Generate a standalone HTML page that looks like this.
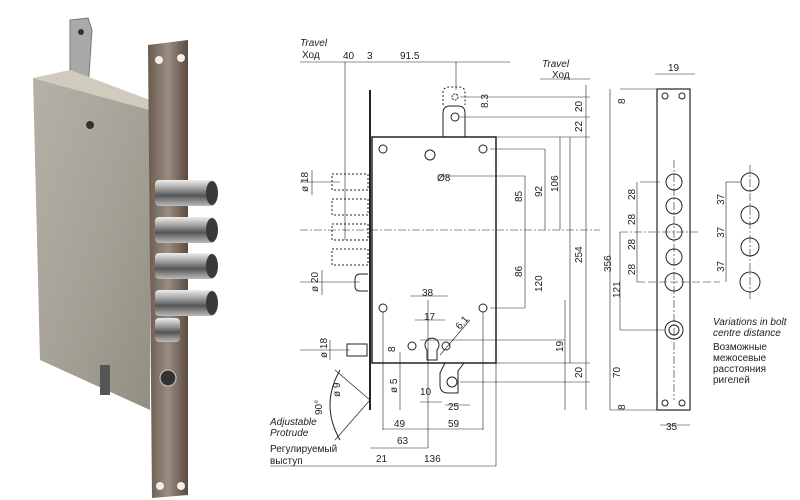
<!DOCTYPE html>
<html><head><meta charset="utf-8"><style>
html,body{margin:0;padding:0;background:#fff;width:800px;height:500px;overflow:hidden}
svg{display:block}
text{font-family:"Liberation Sans",sans-serif;font-size:10px;fill:#222}
.i{font-style:italic}
</style></head><body>
<svg width="800" height="500" viewBox="0 0 800 500" xmlns="http://www.w3.org/2000/svg">
<defs>
<linearGradient id="bd" x1="0" y1="0" x2="1" y2="1"><stop offset="0" stop-color="#b4b1a8"/><stop offset="0.5" stop-color="#a6a297"/><stop offset="1" stop-color="#938e82"/></linearGradient>
<linearGradient id="fp" x1="0" y1="0" x2="1" y2="0"><stop offset="0" stop-color="#6a5a4e"/><stop offset="0.5" stop-color="#9a8c80"/><stop offset="1" stop-color="#5a4a40"/></linearGradient>
<linearGradient id="bo" x1="0" y1="0" x2="0" y2="1"><stop offset="0" stop-color="#eee"/><stop offset="0.35" stop-color="#9a9a9a"/><stop offset="0.6" stop-color="#555"/><stop offset="1" stop-color="#bbb"/></linearGradient>
</defs>
<!-- photo -->
<polygon points="70,20 88,18 92,30 88,90 70,85" fill="#a9a9a9" stroke="#777"/>
<circle cx="81" cy="32" r="3" fill="#333"/>
<polygon points="33,78 150,110 150,410 40,360" fill="url(#bd)"/>
<polygon points="33,78 70,70 150,100 150,110" fill="#d0cbbd"/>
<polygon points="148,45 188,40 188,495 152,498" fill="url(#fp)"/>
<circle cx="159" cy="60" r="4" fill="#eee"/><circle cx="181" cy="58" r="4" fill="#eee"/>
<circle cx="160" cy="486" r="4" fill="#eee"/><circle cx="181" cy="486" r="4" fill="#eee"/>
<circle cx="168" cy="378" r="8" fill="#333" stroke="#ccc"/>
<g fill="url(#bo)">
<rect x="155" y="180" width="60" height="26" rx="4"/><rect x="155" y="217" width="60" height="26" rx="4"/>
<rect x="155" y="253" width="60" height="26" rx="4"/><rect x="155" y="290" width="60" height="26" rx="4"/>
<rect x="155" y="318" width="25" height="24" rx="4"/>
</g>
<g fill="#3a3a3a"><ellipse cx="212" cy="193" rx="6" ry="12"/><ellipse cx="212" cy="230" rx="6" ry="12"/><ellipse cx="212" cy="266" rx="6" ry="12"/><ellipse cx="212" cy="303" rx="6" ry="12"/></g>
<circle cx="90" cy="125" r="4" fill="#333"/><rect x="100" y="365" width="10" height="30" fill="#555"/>
<!-- drawing -->
<g stroke="#222" fill="none" stroke-width="1">
<rect x="372" y="137" width="124" height="226" stroke-width="1.5"/>
<line x1="370" y1="90" x2="370" y2="410" stroke-width="2"/>
<path d="M443,137 V113 Q443,106 450,106 H458 Q465,106 465,113 V137"/>
<path d="M443,105 V92 Q443,87 450,87 H458 Q465,87 465,92 V105" stroke-dasharray="2,2"/>
<circle cx="455" cy="117" r="4"/><circle cx="455" cy="97" r="3" stroke-dasharray="2,1"/>
<circle cx="383" cy="149" r="4"/><circle cx="483" cy="149" r="4"/><circle cx="430" cy="155" r="5"/>
<circle cx="383" cy="308" r="4"/><circle cx="483" cy="308" r="4"/>
<circle cx="412" cy="346" r="4"/><circle cx="446" cy="346" r="4"/>
<path d="M427,350 a7,7 0 1 1 10,0 v10 h-10z"/>
<path d="M445,363 l-5,10 v12 q0,8 8,8 h10 v-22 l6,-8" />
<circle cx="452" cy="382" r="5"/>
<g stroke-dasharray="2,2">
<rect x="332" y="174" width="36" height="16"/><rect x="332" y="199" width="36" height="16"/>
<rect x="332" y="224" width="36" height="16"/><rect x="332" y="249" width="36" height="16"/>
</g>
<path d="M368,274 H360 Q355,274 355,280 V286 Q355,291 360,291 H368"/>
<rect x="347" y="344" width="20" height="12"/>
<path d="M340,370 Q320,405 340,440" /><path d="M335,370 L370,400 L335,440" stroke-width="0.7"/>
<g stroke-width="0.6">
<line x1="300" y1="62" x2="510" y2="62"/><line x1="345" y1="62" x2="345" y2="240"/><line x1="456" y1="62" x2="456" y2="90"/>
<line x1="540" y1="79" x2="590" y2="79"/><line x1="586" y1="85" x2="586" y2="410"/>
<line x1="460" y1="97" x2="590" y2="97"/><line x1="460" y1="117" x2="590" y2="117"/><line x1="496" y1="137" x2="590" y2="137"/>
<line x1="438" y1="176" x2="525" y2="176"/><line x1="525" y1="176" x2="525" y2="308"/>
<line x1="490" y1="149" x2="545" y2="149"/><line x1="545" y1="149" x2="545" y2="230"/>
<line x1="560" y1="137" x2="560" y2="230"/><line x1="300" y1="230" x2="600" y2="230" stroke-dasharray="8,2,2,2"/>
<line x1="490" y1="308" x2="525" y2="308"/><line x1="570" y1="137" x2="570" y2="363"/>
<line x1="496" y1="363" x2="590" y2="363"/><line x1="420" y1="340" x2="565" y2="340"/><line x1="565" y1="300" x2="565" y2="410"/>
<line x1="460" y1="382" x2="590" y2="382"/>
<line x1="300" y1="182" x2="340" y2="182"/><line x1="300" y1="282" x2="360" y2="282"/><line x1="300" y1="350" x2="350" y2="350"/>
<line x1="312" y1="170" x2="312" y2="195"/><line x1="322" y1="270" x2="322" y2="295"/><line x1="330" y1="340" x2="330" y2="360"/>
<line x1="410" y1="296" x2="448" y2="296"/><line x1="415" y1="320" x2="445" y2="320"/>
<line x1="383" y1="312" x2="383" y2="430"/><line x1="483" y1="312" x2="483" y2="430"/><line x1="383" y1="429" x2="483" y2="429"/>
<line x1="370" y1="448" x2="428" y2="448"/><line x1="428" y1="300" x2="428" y2="448"/>
<line x1="270" y1="466" x2="496" y2="466"/><line x1="496" y1="363" x2="496" y2="466"/>
<line x1="400" y1="352" x2="400" y2="410"/><line x1="420" y1="402" x2="442" y2="402"/><line x1="445" y1="405" x2="470" y2="405"/>
<line x1="440" y1="355" x2="470" y2="320"/>
<line x1="620" y1="89" x2="660" y2="89"/><line x1="610" y1="89" x2="610" y2="410"/><line x1="610" y1="410" x2="660" y2="410"/>
<line x1="640" y1="182" x2="660" y2="182"/><line x1="637" y1="182" x2="637" y2="282"/><line x1="637" y1="282" x2="720" y2="282" stroke-dasharray="8,3"/>
<line x1="620" y1="232" x2="700" y2="232" stroke-dasharray="8,2,2,2"/><line x1="620" y1="232" x2="620" y2="330"/><line x1="620" y1="330" x2="665" y2="330"/>
<line x1="655" y1="74" x2="695" y2="74"/><line x1="660" y1="425" x2="690" y2="425"/>
<line x1="726" y1="182" x2="740" y2="182"/><line x1="726" y1="182" x2="726" y2="282"/>
<line x1="674" y1="160" x2="674" y2="400" stroke-dasharray="8,2,2,2"/><line x1="750" y1="165" x2="750" y2="300" stroke-dasharray="8,2,2,2"/>
</g>
<rect x="657" y="89" width="33" height="321" stroke-width="1.2"/>
<circle cx="665" cy="96" r="3"/><circle cx="682" cy="96" r="3"/><circle cx="665" cy="403" r="3"/><circle cx="682" cy="403" r="3"/>
<circle cx="674" cy="182" r="8"/><circle cx="674" cy="206" r="8"/><circle cx="674" cy="232" r="8"/><circle cx="674" cy="257" r="8"/><circle cx="674" cy="282" r="9"/>
<circle cx="674" cy="330" r="9"/><circle cx="674" cy="330" r="5"/>
<circle cx="750" cy="182" r="9"/><circle cx="750" cy="215" r="9"/><circle cx="750" cy="247" r="9"/><circle cx="750" cy="282" r="10"/>
</g>
<text x="300" y="46" class="i">Travel</text><text x="302" y="58">Ход</text>
<text x="343" y="59">40</text><text x="367" y="59">3</text><text x="400" y="59">91.5</text>
<text x="542" y="67" class="i">Travel</text><text x="552" y="78">Ход</text>
<g font-size="10">
<text transform="translate(488,108) rotate(-90)">8.3</text>
<text transform="translate(582,112) rotate(-90)">20</text><text transform="translate(582,132) rotate(-90)">22</text>
<text transform="translate(522,202) rotate(-90)">85</text><text transform="translate(542,197) rotate(-90)">92</text>
<text transform="translate(558,192) rotate(-90)">106</text><text transform="translate(582,263) rotate(-90)">254</text>
<text transform="translate(522,277) rotate(-90)">86</text><text transform="translate(542,292) rotate(-90)">120</text>
<text transform="translate(563,352) rotate(-90)">19</text><text transform="translate(582,378) rotate(-90)">20</text>
<text transform="translate(308,192) rotate(-90)">ø 18</text><text transform="translate(318,292) rotate(-90)">ø 20</text>
<text transform="translate(327,358) rotate(-90)">ø 18</text>
<text transform="translate(395,352) rotate(-90)">8</text><text transform="translate(397,393) rotate(-90)">ø 5</text>
<text transform="translate(340,397) rotate(-90)">ø 9</text><text transform="translate(322,415) rotate(-90)">90°</text>
<text transform="translate(460,330) rotate(-50)">6.1</text>
<text transform="translate(611,272) rotate(-90)">356</text>
<text transform="translate(635,200) rotate(-90)">28</text><text transform="translate(635,225) rotate(-90)">28</text>
<text transform="translate(635,250) rotate(-90)">28</text><text transform="translate(635,275) rotate(-90)">28</text>
<text transform="translate(620,298) rotate(-90)">121</text><text transform="translate(620,378) rotate(-90)">70</text>
<text transform="translate(625,104) rotate(-90)">8</text><text transform="translate(625,410) rotate(-90)">8</text>
<text transform="translate(724,205) rotate(-90)">37</text><text transform="translate(724,238) rotate(-90)">37</text><text transform="translate(724,272) rotate(-90)">37</text>
</g>
<text x="437" y="181">Ø8</text>
<text x="422" y="296">38</text><text x="424" y="320">17</text>
<text x="420" y="395">10</text><text x="448" y="410">25</text>
<text x="394" y="427">49</text><text x="448" y="427">59</text><text x="397" y="444">63</text><text x="376" y="462">21</text><text x="424" y="462">136</text>
<text x="668" y="71">19</text><text x="666" y="430">35</text>
<text x="270" y="425" class="i">Adjustable</text><text x="270" y="436" class="i">Protrude</text>
<text x="270" y="452">Регулируемый</text><text x="270" y="464">выступ</text>
<text x="713" y="325" class="i">Variations in bolt</text><text x="713" y="336" class="i">centre distance</text>
<text x="713" y="350">Возможные</text><text x="713" y="361">межосевые</text><text x="713" y="372">расстояния</text><text x="713" y="383">ригелей</text>
</svg>
</body></html>
